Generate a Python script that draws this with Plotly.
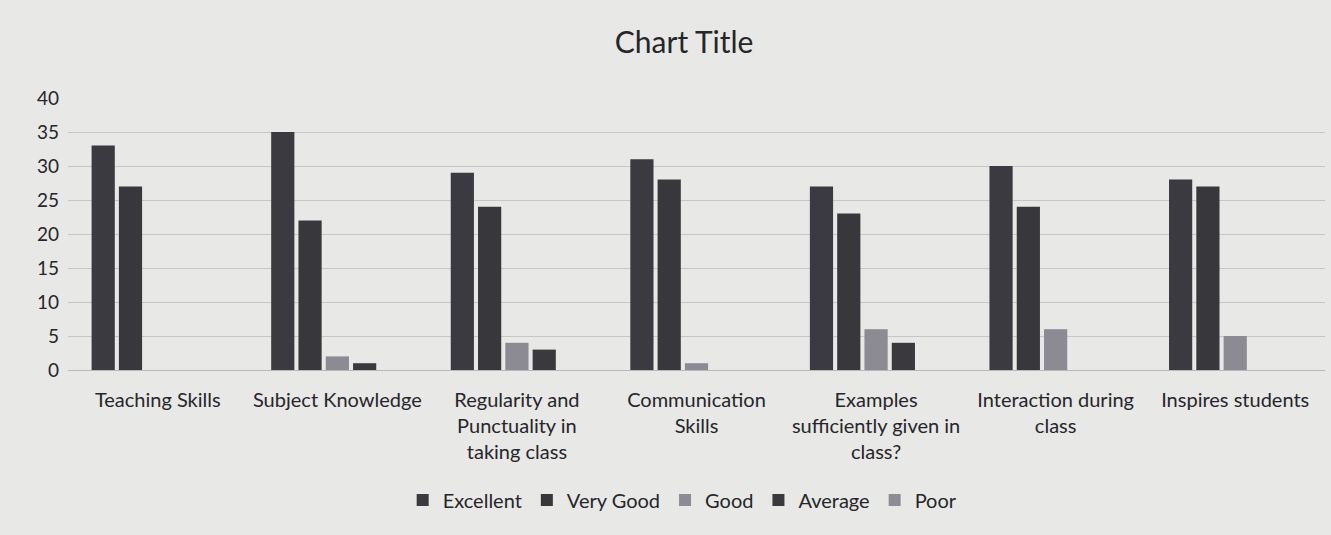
import plotly.graph_objects as go

categories = [
    "Teaching Skills",
    "Subject Knowledge",
    "Regularity and<br>Punctuality in<br>taking class",
    "Communication<br>Skills",
    "Examples<br>sufficiently given in<br>class?",
    "Interaction during<br>class",
    "Inspires students",
]

excellent = [33, 35, 29, 31, 27, 30, 28]
very_good = [27, 22, 24, 28, 23, 24, 27]
good = [0, 2, 4, 1, 6, 6, 5]
average = [0, 1, 3, 0, 4, 0, 0]
poor = [0, 0, 0, 0, 0, 0, 0]

y_ticks = [0, 5, 10, 15, 20, 25, 30, 35, 40]

series = [
    ("Excellent", excellent, "#3b3a40"),
    ("Very Good", very_good, "#38373c"),
    ("Good", good, "#8c8a92"),
    ("Average", average, "#3a393e"),
    ("Poor", poor, "#8e8c94"),
]

FONT = "Lato, 'Open Sans', sans-serif"
TEXT = "#26262a"
BG = "#e8e8e6"

fig = go.Figure()
for name, vals, color in series:
    fig.add_trace(go.Bar(
        name=name, x=categories, y=vals,
        marker=dict(color=color, line=dict(width=0)),
    ))

fig.update_layout(
    width=1331, height=535,
    barmode="group", bargap=0.24, bargroupgap=0.15,
    paper_bgcolor=BG, plot_bgcolor=BG,
    margin=dict(l=68, r=6, t=98, b=165),
    title=dict(text="Chart Title", x=0.514, xanchor="center", y=0.921, yanchor="middle",
               font=dict(family=FONT, size=30, color=TEXT)),
    font=dict(family=FONT, size=20, color=TEXT),
    xaxis=dict(showgrid=False, showline=True, linecolor="#b8b8b8", linewidth=1,
               ticks="", tickfont=dict(size=20, color=TEXT), ticklabelstandoff=12),
    yaxis=dict(range=[0, 40], tickvals=y_ticks, showgrid=True, gridcolor="#c6c6c6",
               gridwidth=1, zeroline=False, showline=False, ticks="",
               tickfont=dict(size=19, color=TEXT), ticklabelstandoff=8),
    legend=dict(orientation="h", x=0.489, xanchor="center", y=-0.478, yanchor="middle",
                font=dict(size=20, color=TEXT), bgcolor="rgba(0,0,0,0)",
                itemwidth=30, traceorder="normal"),
)

fig.write_html("out.html")
